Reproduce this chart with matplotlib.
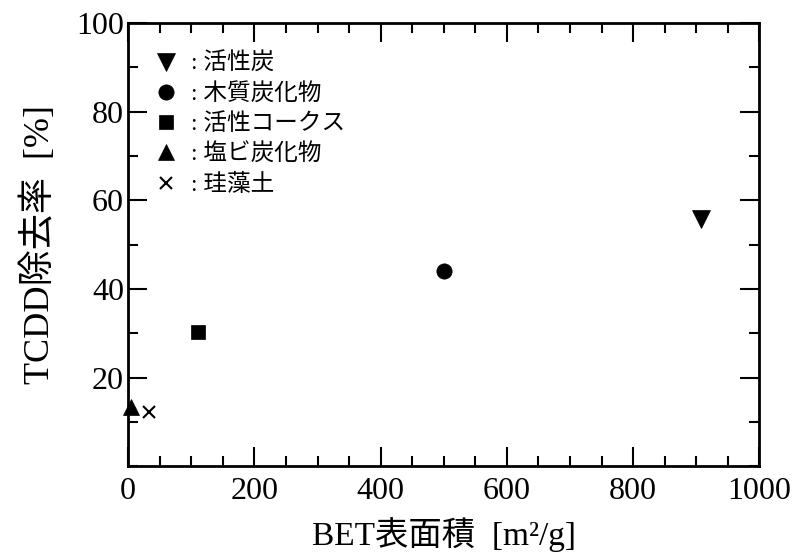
import matplotlib.pyplot as plt
from matplotlib.ticker import MultipleLocator

# データ
labels = [": 活性炭", ": 木質炭化物", ": 活性コークス", ": 塩ビ炭化物", ": 珪藻土"]
bet_area = [908, 500, 110, 5, 33]
removal = [55.8, 44.0, 30.2, 13.3, 12.2]
markers = ["v", "o", "s", "^", "x"]
sizes = [13, 11, 10.5, 12, 9]

plt.rcParams["font.family"] = ["Liberation Serif", "Noto Sans CJK JP"]

fig = plt.figure(figsize=(8.01, 5.59), dpi=100)
ax = fig.add_axes([0.160, 0.166, 0.788, 0.793])

for x, y, m, s, lab in zip(bet_area, removal, markers, sizes, labels):
    ax.plot([x], [y], linestyle="none", marker=m, markersize=s,
            color="black", markeredgewidth=1.5 if m == "x" else 0.5,
            label=lab, clip_on=False)

ax.set_xlim(0, 1000)
ax.set_ylim(0, 100)
ax.xaxis.set_minor_locator(MultipleLocator(50))
ax.yaxis.set_minor_locator(MultipleLocator(10))
ax.set_yticks([20, 40, 60, 80, 100])
ax.set_xticks([0, 200, 400, 600, 800, 1000])

ax.tick_params(which="both", direction="in", top=True, right=True,
               labelsize=23, width=1.5, colors="black")
ax.tick_params(axis="x", pad=8)
ax.tick_params(axis="y", pad=3)
ax.tick_params(which="major", length=14)
ax.tick_params(which="minor", length=7)
for sp in ax.spines.values():
    sp.set_linewidth(2)

ax.set_xlabel("BET表面積  [m²/g]", fontsize=24, labelpad=8)
ax.set_ylabel("TCDD除去率  [%]", fontsize=26, labelpad=14)

leg = ax.legend(loc="upper left", frameon=False, fontsize=17,
                handletextpad=0.4, labelspacing=0.35, handlelength=1.3,
                borderaxespad=0.3, bbox_to_anchor=(0.01, 0.97))

fig.savefig("out.png", dpi=100)
